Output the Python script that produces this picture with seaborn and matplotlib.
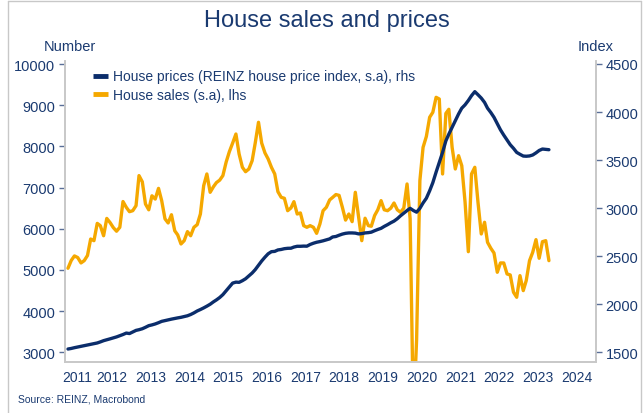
import matplotlib
matplotlib.use("Agg")
import matplotlib.pyplot as plt
from matplotlib.lines import Line2D
import pandas as pd
import seaborn as sns

# monthly series, May 2011 - Oct 2023
start_month = "2011-05-01"

house_sales = [
    5040, 5230, 5340, 5300, 5170, 5225, 5350, 5750, 5710, 6130,
    6075, 5830, 6250, 6150, 6030, 5940, 6035, 6660, 6520, 6414,
    6438, 6560, 7290, 7140, 6600, 6460, 6800, 6720, 6980, 6680,
    6240, 6140, 6340, 5950, 5850, 5630, 5710, 5930, 5830, 6035,
    6100, 6358, 7046, 7330, 6885, 7020, 7120, 7180, 7290, 7620,
    7870, 8080, 8300, 7815, 7492, 7385, 7451, 7652, 8080, 8585,
    8080, 7840, 7694, 7492, 7330, 6900, 6763, 6739, 6438, 6505,
    6657, 6358, 6383, 6075, 6035, 6075, 6035, 5889, 6116, 6438,
    6521, 6700, 6760, 6830, 6810, 6520, 6210, 6358, 6172, 6885,
    6280, 5710, 6255, 6075, 6060, 6320, 6460, 6682, 6460, 6438,
    6500, 6625, 6460, 6400, 6500, 7087, 6240, 1400, 3300, 7170,
    7976, 8240, 8706, 8827, 9191, 9150, 7330, 8800, 8900, 7976,
    7451, 7774, 7531, 6650, 5443, 7330, 7492, 6642, 5873, 6157,
    5671, 5526, 5411, 4943, 5169, 5169, 4902, 4878, 4457, 4336,
    4861, 4497, 4740, 5225, 5427, 5735, 5283, 5686, 5710, 5225,
]

house_prices = [
    1534, 1540, 1548, 1555, 1562, 1568, 1576, 1583, 1590, 1597,
    1608, 1621, 1630, 1640, 1650, 1660, 1673, 1685, 1700, 1695,
    1712, 1728, 1735, 1745, 1760, 1777, 1785, 1795, 1808, 1822,
    1830, 1838, 1845, 1852, 1858, 1864, 1872, 1880, 1893, 1910,
    1930, 1945, 1962, 1980, 2000, 2025, 2045, 2070, 2100, 2140,
    2180, 2220, 2230, 2228, 2245, 2265, 2295, 2325, 2360, 2405,
    2450, 2490, 2525, 2547, 2550, 2565, 2570, 2578, 2582, 2583,
    2595, 2603, 2603, 2605, 2604, 2622, 2635, 2645, 2652, 2660,
    2670, 2680, 2700, 2705, 2718, 2730, 2738, 2742, 2742, 2740,
    2732, 2735, 2742, 2745, 2750, 2765, 2778, 2790, 2810, 2828,
    2848, 2865, 2890, 2920, 2948, 2975, 2998, 2975, 2958, 2998,
    3054, 3103, 3180, 3265, 3375, 3475, 3580, 3700, 3770, 3840,
    3910, 3980, 4040, 4075, 4120, 4170, 4212, 4180, 4145, 4100,
    4040, 3995, 3945, 3880, 3815, 3760, 3710, 3660, 3622, 3580,
    3560, 3542, 3540, 3543, 3553, 3575, 3600, 3615, 3612, 3608,
]

years = list(range(2011, 2025))
sales_ticks = [3000, 4000, 5000, 6000, 7000, 8000, 9000, 10000]
price_ticks = [1500, 2000, 2500, 3000, 3500, 4000, 4500]

NAVY = "#0b2d6b"
ORANGE = "#f5a800"
TEXT = "#1a3a70"
SPINE = "#c8c8c8"

sns.set_style("white")
plt.rcParams["font.family"] = ["Liberation Sans", "DejaVu Sans"]

dates = pd.date_range(start_month, periods=len(house_sales), freq="MS") + pd.Timedelta(days=14)
df = pd.DataFrame({"date": dates, "sales": house_sales, "prices": house_prices})

fig = plt.figure(figsize=(6.44, 4.14), dpi=100)
ax = fig.add_axes([65 / 644, 1 - 363 / 414, 531 / 644, 301 / 414])
ax2 = ax.twinx()

sns.lineplot(data=df, x="date", y="sales", ax=ax, color=ORANGE, linewidth=2.4)
sns.lineplot(data=df, x="date", y="prices", ax=ax2, color=NAVY, linewidth=2.4)

ax.set_xlim(pd.Timestamp("2011-04-17"), pd.Timestamp("2025-01-01"))
ax.set_ylim(2764, 10073)
ax2.set_ylim(1399, 4531)

ax.set_yticks(sales_ticks)
ax.set_yticklabels([str(v) for v in sales_ticks])
ax2.set_yticks(price_ticks)
ax2.set_yticklabels([str(v) for v in price_ticks])

# tick marks at year boundaries, labels in the middle of each year
ax.set_xticks([pd.Timestamp(f"{y + 1}-01-01") for y in years])
ax.set_xticklabels([""] * len(years))
label_pos = [pd.Timestamp("2011-08-10")] + [pd.Timestamp(f"{y}-07-02") for y in years[1:]]
ax.set_xticks(label_pos, minor=True)
ax.set_xticklabels([str(y) for y in years], minor=True)

ax.tick_params(axis="x", which="major", length=4, width=1, color="#5a6f98", direction="out")
ax.tick_params(axis="x", which="minor", length=0, pad=6, labelsize=10, labelcolor=TEXT)
ax.tick_params(axis="y", length=4, width=1, color="#5a6f98", pad=3, labelsize=10.5, labelcolor=TEXT,
               left=True)
ax2.tick_params(axis="y", length=4, width=1, color="#5a6f98", pad=3, labelsize=10.5, labelcolor=TEXT,
                right=True)

for a in (ax, ax2):
    a.set_xlabel("")
    a.set_ylabel("")
    a.spines["top"].set_visible(False)
    for s in ("left", "right", "bottom"):
        a.spines[s].set_color(SPINE)
        a.spines[s].set_linewidth(1.2)

handles = [Line2D([], [], color=NAVY, lw=3.5, solid_capstyle="butt"),
           Line2D([], [], color=ORANGE, lw=3.5, solid_capstyle="butt")]
labels = ["House prices (REINZ house price index, s.a), rhs", "House sales (s.a), lhs"]
ax2.legend(handles, labels, loc="upper left", bbox_to_anchor=(0.0527, 0.972), frameon=False,
           fontsize=10, labelcolor=TEXT, handlelength=1.1, handletextpad=0.35,
           labelspacing=0.35, borderpad=0, borderaxespad=0)

fig.text(0.508, 1 - 21 / 414, "House sales and prices", ha="center", va="center",
         fontsize=17, color=TEXT)
fig.text(70 / 644, 1 - 47 / 414, "Number", ha="center", va="center", fontsize=10.5, color=TEXT)
fig.text(596 / 644, 1 - 47 / 414, "Index", ha="center", va="center", fontsize=10.5, color=TEXT)
fig.text(18 / 644, 1 - 400 / 414, "Source: REINZ, Macrobond", ha="left", va="center",
         fontsize=7.5, color=TEXT)

# light frame round the chart
frame_kw = dict(color="#c8c8c8", lw=1, transform=fig.transFigure)
fig.add_artist(Line2D([8 / 644, 8 / 644], [0, 1 - 2 / 414], **frame_kw))
fig.add_artist(Line2D([8 / 644, 641 / 644], [1 - 2 / 414, 1 - 2 / 414], **frame_kw))
fig.add_artist(Line2D([641 / 644, 641 / 644], [0, 1 - 2 / 414], **frame_kw))

fig.savefig("out.png", dpi=100)
